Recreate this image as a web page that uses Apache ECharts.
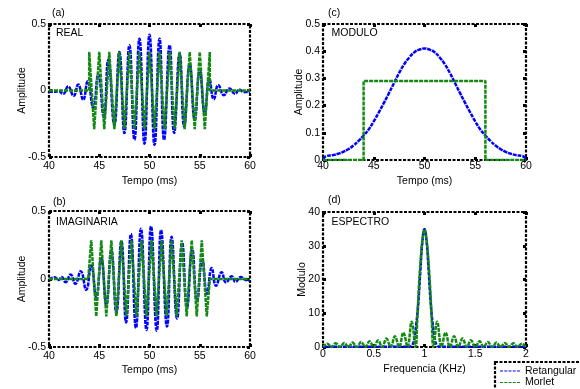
<!DOCTYPE html>
<html>
<head>
<meta charset="utf-8">
<script src="https://cdn.jsdelivr.net/npm/echarts@6/dist/echarts.min.js"></script>
<style>
html, body { margin: 0; padding: 0; background: #fff; }
#chart { width: 580px; height: 389px; }
</style>
</head>
<body>
<div id="chart"></div>
<script>
// tick labels
var timeTicks = [40, 45, 50, 55, 60];
var ampTicks = [-0.5, 0, 0.5];
var modTicks = [0, 0.1, 0.2, 0.3, 0.4, 0.5];
var freqTicks = [0, 0.5, 1, 1.5, 2];
var specTicks = [0, 10, 20, 30, 40];

// (a) REAL  [tempo ms, amplitude]
var realRet = [[40,-0.01],[40.5,-0.01],[40.95,-0.005],[41.4,-0.025],[41.9,0.03],[42.45,-0.04],[42.9,0.045],[43.4,-0.07],[43.85,0.07],[44.4,-0.13],[44.9,0.12],[45.45,-0.2],[45.9,0.23],[46.5,-0.26],[47,0.29],[47.5,-0.32],[48,0.34],[48.5,-0.37],[49,0.39],[49.5,-0.4],[50,0.42],[50.5,-0.41],[51,0.39],[51.45,-0.37],[52,0.34],[52.45,-0.32],[53,0.28],[53.45,-0.27],[54,0.2],[54.5,-0.22],[55,0.15],[55.5,-0.17],[55.95,0.09],[56.4,-0.065],[56.85,0.04],[57.4,-0.035],[57.95,0.015],[58.5,-0.025],[58.95,0.005],[59.4,-0.012],[60,-0.01]];
var realMor = [[40,0],[44,0],[44,0.29],[44.5,-0.29],[45,0.29],[45.5,-0.29],[46,0.29],[46.5,-0.29],[47,0.29],[47.5,-0.29],[48,0.29],[48.5,-0.29],[49,0.29],[49.5,-0.29],[50,0.29],[50.5,-0.29],[51,0.29],[51.5,-0.29],[52,0.29],[52.5,-0.29],[53,0.29],[53.5,-0.29],[54,0.29],[54.5,-0.29],[55,0.29],[55.5,-0.29],[56,0.29],[56,0],[60,0]];

// (b) IMAGINARIA
var imagRet = [[40,0],[40.55,0.012],[40.95,-0.008],[41.25,0.015],[41.65,-0.023],[42.15,0.033],[42.62,-0.035],[43.15,0.057],[43.7,-0.08],[44.2,0.1],[44.7,-0.13],[45.2,0.15],[45.7,-0.19],[46.2,0.21],[46.7,-0.25],[47.2,0.28],[47.67,-0.32],[48.15,0.33],[48.65,-0.36],[49.15,0.37],[49.7,-0.375],[50.15,0.387],[50.72,-0.38],[51.15,0.36],[51.74,-0.35],[52.2,0.31],[52.74,-0.29],[53.25,0.265],[53.73,-0.21],[54.25,0.22],[54.73,-0.16],[55.25,0.14],[55.72,-0.11],[56.19,0.08],[56.62,-0.05],[57.18,0.05],[57.61,-0.025],[58.18,0.02],[58.55,-0.02],[59.1,0.015],[59.5,-0.005],[60,-0.01]];
var imagMor = [[40,0],[43.9,0],[44.2,0.285],[44.7,-0.275],[45.2,0.285],[45.7,-0.275],[46.2,0.285],[46.7,-0.275],[47.2,0.285],[47.7,-0.275],[48.2,0.285],[48.7,-0.275],[49.2,0.285],[49.7,-0.275],[50.2,0.285],[50.7,-0.275],[51.2,0.285],[51.7,-0.275],[52.2,0.285],[52.7,-0.275],[53.2,0.285],[53.7,-0.275],[54.2,0.285],[54.7,-0.275],[55.2,0.285],[55.7,-0.275],[56,0],[60,0]];

// (c) MODULO
var modRet = [[40,0.004],[40.3,0.014],[41,0.018],[41.5,0.023],[42,0.03],[42.5,0.04],[43,0.053],[43.5,0.07],[44,0.09],[44.5,0.112],[45,0.142],[45.5,0.175],[46,0.21],[46.5,0.246],[47,0.283],[47.5,0.32],[48,0.352],[48.5,0.377],[49,0.396],[49.5,0.406],[50,0.41],[50.5,0.406],[51,0.396],[51.5,0.377],[52,0.352],[52.5,0.32],[53,0.283],[53.5,0.246],[54,0.21],[54.5,0.175],[55,0.142],[55.5,0.112],[56,0.09],[56.5,0.07],[57,0.053],[57.5,0.04],[58,0.03],[58.5,0.023],[59,0.018],[59.7,0.014],[60,0.004]];
var modMor = [[40,0],[44,0],[44,0.29],[56,0.29],[56,0],[60,0]];

// (d) ESPECTRO  [KHz, modulo]
var specRet = [[0,0.05],[0.8,0.05],[0.85,0.1],[0.88,0.6],[0.9,2.5],[0.92,7],[0.94,13.5],[0.96,23],[0.98,31.5],[1,35],[1.02,31.5],[1.04,23],[1.06,13.5],[1.08,7],[1.1,2.5],[1.12,0.6],[1.15,0.1],[1.2,0.05],[2,0.05]];
var specMor = [[0,0],[0.042,1.0],[0.083,0],[0.125,1.1],[0.167,0],[0.208,1.2],[0.25,0],[0.292,1.3],[0.333,0],[0.375,1.5],[0.417,0],[0.458,1.7],[0.5,0],[0.542,2.0],[0.583,0],[0.625,2.5],[0.667,0],[0.708,3.2],[0.75,0],[0.792,4.3],[0.833,0],[0.873,7.5],[0.912,0],[0.93,9],[0.945,18],[0.965,27],[0.983,32.5],[1,34.8],[1.017,32.5],[1.035,27],[1.055,18],[1.07,9],[1.088,0],[1.125,7.5],[1.167,0],[1.208,4.3],[1.25,0],[1.292,3.2],[1.333,0],[1.375,2.5],[1.417,0],[1.458,2.0],[1.5,0],[1.542,1.7],[1.583,0],[1.625,1.5],[1.667,0],[1.708,1.3],[1.75,0],[1.792,1.2],[1.833,0],[1.875,1.1],[1.917,0],[1.958,1.0],[2,0]];

var FONT = 'Liberation Sans, Arial, sans-serif';
var BLUE = '#0000ff';
var GREEN = '#138a13';

var grids = [
    { left: 49, top: 24, width: 201, height: 133 },   // a
    { left: 323, top: 24, width: 203, height: 136 },  // c
    { left: 49, top: 211, width: 201, height: 136 },  // b
    { left: 323, top: 212, width: 203, height: 135 }  // d
];
grids.forEach(function (g) {
    g.show = true;
    g.borderColor = '#000';
    g.borderWidth = 2.2;
    g.borderType = [3, 1.5];
    g.containLabel = false;
});

var tickStyle = { show: true, inside: true, length: 3, lineStyle: { color: '#000', width: 3 } };
var noLine = { show: false, onZero: false };

function mainX(grid, ticks, name, gap, margin) {
    return {
        type: 'value', gridIndex: grid, position: 'bottom',
        min: ticks[0], max: ticks[ticks.length - 1], interval: ticks[1] - ticks[0],
        name: name, nameLocation: 'middle', nameGap: gap, nameMoveOverlap: false,
        nameTextStyle: { color: '#000', fontSize: 10.5, fontFamily: FONT },
        axisLine: noLine, axisTick: tickStyle, splitLine: { show: false },
        axisLabel: { color: '#000', fontSize: 10.5, fontFamily: FONT, margin: margin }
    };
}
function mirrorX(grid, ticks) {
    return {
        type: 'value', gridIndex: grid, position: 'top',
        min: ticks[0], max: ticks[ticks.length - 1], interval: ticks[1] - ticks[0],
        axisLine: noLine, axisTick: tickStyle, splitLine: { show: false },
        axisLabel: { show: false }
    };
}
function mainY(grid, ticks, name, gap) {
    return {
        type: 'value', gridIndex: grid, position: 'left',
        min: ticks[0], max: ticks[ticks.length - 1], interval: ticks[1] - ticks[0],
        name: name, nameLocation: 'middle', nameGap: gap, nameMoveOverlap: false,
        nameTextStyle: { color: '#000', fontSize: 10.5, fontFamily: FONT },
        axisLine: noLine, axisTick: tickStyle, splitLine: { show: false },
        axisLabel: { color: '#000', fontSize: 10.5, fontFamily: FONT, margin: 3 }
    };
}
function mirrorY(grid, ticks) {
    return {
        type: 'value', gridIndex: grid, position: 'right',
        min: ticks[0], max: ticks[ticks.length - 1], interval: ticks[1] - ticks[0],
        axisLine: noLine, axisTick: tickStyle, splitLine: { show: false },
        axisLabel: { show: false }
    };
}

function line(name, data, idx, color, smooth) {
    return {
        name: name, type: 'line', data: data,
        xAxisIndex: idx * 2, yAxisIndex: idx * 2,
        symbol: 'none', smooth: smooth, animation: false,
        lineStyle: { color: color, width: 2.5, type: [4, 1] },
        itemStyle: { color: color }
    };
}

function label(text, x, y) {
    return { type: 'text', x: x, y: y, style: { text: text, fill: '#000', fontSize: 10.5, fontFamily: FONT, verticalAlign: 'middle' } };
}

var dashIcon = 'path://M0,0h3v1h-3zM4.25,0h3v1h-3zM8.5,0h3v1h-3zM12.75,0h3v1h-3zM17,0h3v1h-3z';

var myChart = echarts.init(document.getElementById('chart'), null, { renderer: 'canvas' });

var option = {
    backgroundColor: '#fff',
    animation: false,
    grid: grids,
    xAxis: [
        mainX(0, timeTicks, 'Tempo (ms)', 19, 4), mirrorX(0, timeTicks),
        mainX(1, timeTicks, 'Tempo (ms)', 16, 1), mirrorX(1, timeTicks),
        mainX(2, timeTicks, 'Tempo (ms)', 18, 4), mirrorX(2, timeTicks),
        mainX(3, freqTicks, 'Frequencia (KHz)', 17, 2), mirrorX(3, freqTicks)
    ],
    yAxis: [
        mainY(0, ampTicks, 'Amplitude', 21), mirrorY(0, ampTicks),
        mainY(1, modTicks, 'Amplitude', 18), mirrorY(1, modTicks),
        mainY(2, ampTicks, 'Amplitude', 21), mirrorY(2, ampTicks),
        mainY(3, specTicks, 'Modulo', 15), mirrorY(3, specTicks)
    ],
    legend: {
        data: ['Retangular', 'Morlet'],
        orient: 'vertical',
        left: 500, top: 365.5,
        height: 60,
        padding: 0,
        icon: dashIcon,
        itemWidth: 20, itemHeight: 2, itemGap: 0.5,
        selectedMode: false,
        textStyle: { color: '#000', fontSize: 10.5, fontFamily: FONT, lineHeight: 10 }
    },
    graphic: [
        label('(a)', 52, 12.7), label('(c)', 328, 13),
        label('(b)', 53, 201.7), label('(d)', 328, 200),
        label('REAL', 56, 33.3), label('MODULO', 331.5, 33.3),
        label('IMAGINARIA', 56, 221.7), label('ESPECTRO', 331.5, 222.3),
        {
            type: 'rect', z: 1,
            shape: { x: 495, y: 362, width: 100, height: 50 },
            style: { fill: '#fff', stroke: '#000', lineWidth: 2.2, lineDash: [3, 1.5] }
        }
    ],
    series: [
        line('Retangular', realRet, 0, BLUE, true),
        line('Morlet', realMor, 0, GREEN, false),
        line('Retangular', modRet, 1, BLUE, true),
        line('Morlet', modMor, 1, GREEN, false),
        line('Retangular', imagRet, 2, BLUE, true),
        line('Morlet', imagMor, 2, GREEN, false),
        line('Retangular', specRet, 3, BLUE, true),
        line('Morlet', specMor, 3, GREEN, 0.4)
    ]
};

myChart.setOption(option);
window.addEventListener('resize', function () {
    myChart.resize();
});
</script>
</body>
</html>
